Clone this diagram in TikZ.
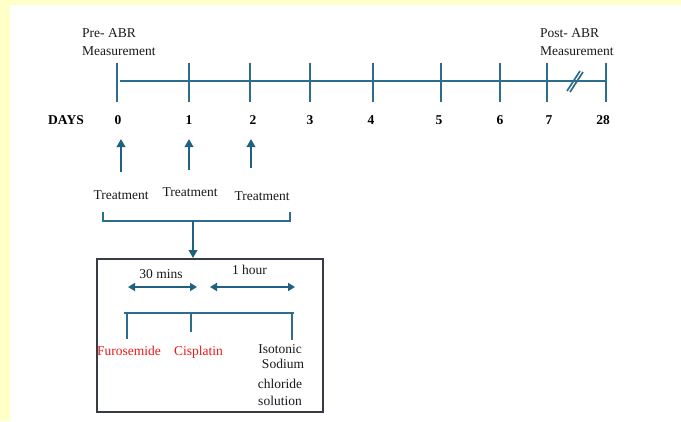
\documentclass[tikz,border=0pt]{standalone}
\usepackage{fontspec}
\setmainfont{Liberation Serif}
\usetikzlibrary{arrows.meta}
\definecolor{bgyellow}{RGB}{255,255,200}
\definecolor{tl}{RGB}{44,108,140}
\definecolor{ar}{RGB}{32,96,128}
\definecolor{bx}{RGB}{55,60,66}
\definecolor{rd}{RGB}{238,24,24}
\begin{document}
\begin{tikzpicture}[x=1pt,y=-1pt,
  txt/.style={font=\fontsize{13.5}{18}\selectfont, inner sep=0pt, text=black!90},
  daylbl/.style={font=\fontsize{13.5}{16}\selectfont\bfseries, inner sep=0pt, anchor=base},
  tickline/.style={tl, line width=1.4pt},
  upar/.style={ar, line width=2pt, -{Triangle[width=8.5pt,length=8pt]}},
  dblar/.style={ar, line width=2pt, {Triangle[width=8pt,length=7pt]}-{Triangle[width=8pt,length=7pt]}},
  redtxt/.style={txt, text=rd}]
\useasboundingbox (0,0) rectangle (681,421);
\fill[bgyellow] (0,0) rectangle (681,421);
\fill[white] (10,5) rectangle (681,421);

% timeline
\coordinate (ls) at (120,81);
\foreach \n/\x in {0/117,1/189,2/250,3/310,4/373,5/441,6/500,7/547,28/606}{
  \coordinate (t\n) at (\x,81);
  \draw[tickline] ([yshift=18.5pt]t\n) -- ([yshift=-20.5pt]t\n);
}
\draw[tickline] (ls) -- (t28);
\coordinate (b1a) at (567,91); \coordinate (b1b) at (580,71);
\coordinate (b2a) at (570,92); \coordinate (b2b) at (583,72);
\draw[tickline, line width=1.7pt] (b1a) -- (b1b);
\draw[tickline, line width=1.7pt] (b2a) -- (b2b);

\node[txt, anchor=north west, align=left] (pre) at (82,28) {Pre- ABR\\Measurement};
\node[txt, anchor=north west, align=left] (post) at (540,28) {Post- ABR\\Measurement};

\node[daylbl] (days) at (66,124) {DAYS};
\foreach \n/\x in {0/118,1/189,2/253,3/310,4/371,5/439,6/500,7/549,28/603}{
  \node[daylbl] (d\n) at (\x,124) {\n};
}

% treatment arrows
\node[txt, anchor=base] (tr0) at (121,199) {Treatment};
\node[txt, anchor=base] (tr1) at (190,196.7) {Treatment};
\node[txt, anchor=base] (tr2) at (262,200) {Treatment};
\coordinate (u0s) at (121,172); \coordinate (u0e) at (121,139);
\coordinate (u1s) at (189,170); \coordinate (u1e) at (189,139);
\coordinate (u2s) at (251,168); \coordinate (u2e) at (251,139);
\draw[upar] (u0s) -- (u0e);
\draw[upar] (u1s) -- (u1e);
\draw[upar] (u2s) -- (u2e);

% bracket
\coordinate (bl) at (103,212); \coordinate (br) at (290,212);
\coordinate (bm) at (193,221);
\draw[tickline] (bl) |- (bm) -| (br);

% box
\node[draw=bx, line width=1.6pt, minimum width=226pt, minimum height=153pt, anchor=north west, inner sep=0pt] (box) at (96,258) {};
\draw[upar] (bm) -- (box.north -| bm);

\node[txt, anchor=base] (m30) at (161,278) {30 mins};
\node[txt, anchor=base] (h1) at (249.5,274) {1 hour};
\coordinate (d1a) at (128,287); \coordinate (d1b) at (197,287);
\coordinate (d2a) at (210,287); \coordinate (d2b) at (295,287);
\draw[dblar] (d1a) -- (d1b);
\draw[dblar] (d2a) -- (d2b);

\coordinate (hl) at (124,313); \coordinate (hr) at (294,313);
\draw[tickline] (hl) -- (hr);
\coordinate (v1) at (127,313); \coordinate (v1e) at (127,339);
\coordinate (v2) at (191,313); \coordinate (v2e) at (191,332);
\coordinate (v3) at (292,313); \coordinate (v3e) at (292,340);
\draw[tickline] (v1) -- (v1e);
\draw[tickline] (v2) -- (v2e);
\draw[tickline] (v3) -- (v3e);

\node[redtxt, anchor=base] (furo) at (129,355) {Furosemide};
\node[redtxt, anchor=base] (cis) at (198.5,355) {Cisplatin};
\node[txt, anchor=base] (iso1) at (280,353) {Isotonic};
\node[txt, anchor=base] (iso2) at (283,368) {Sodium};
\node[txt, anchor=base] (iso3) at (280,388) {chloride};
\node[txt, anchor=base] (iso4) at (280,405) {solution};
\end{tikzpicture}
\end{document}
